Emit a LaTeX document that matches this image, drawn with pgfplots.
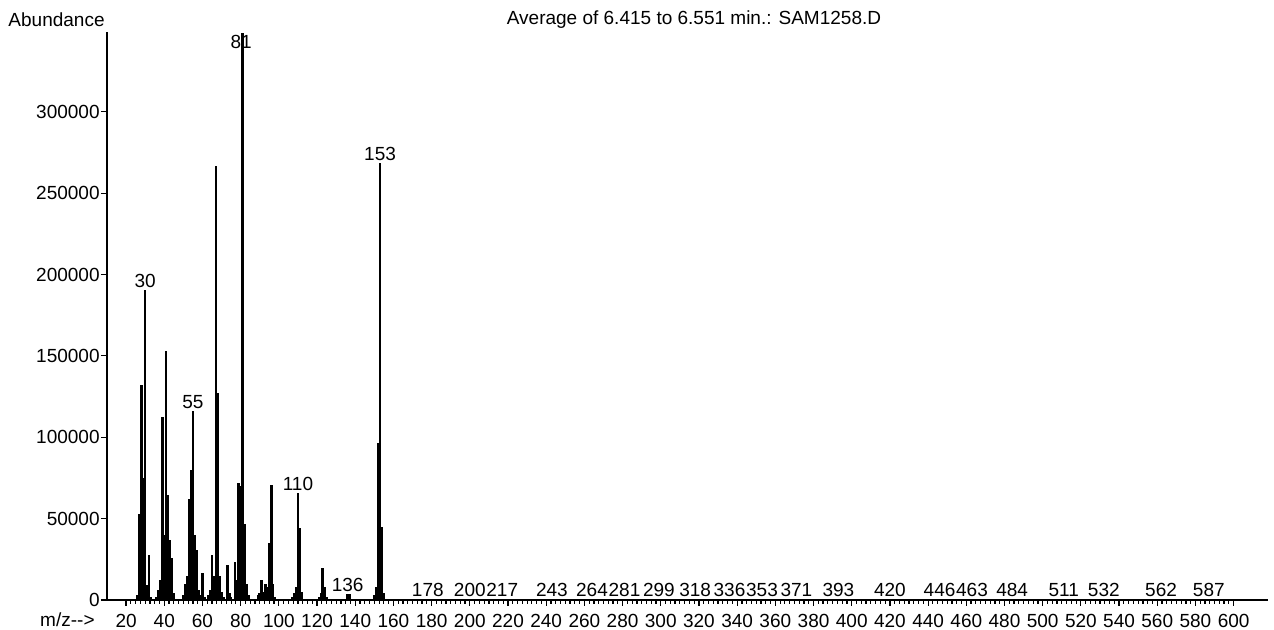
\documentclass[border=0pt]{standalone}
\usepackage{pgfplots}
\pgfplotsset{compat=1.18}
\usepackage{pgfplotstable}
\usepackage{fontspec}
\setmainfont{Liberation Sans}
\newcommand{\lf}{\fontsize{9.5pt}{11pt}\selectfont}

\pgfplotstableread{
mz abund
26 3000
27 53000
28 132000
29 75000
30 190600
31 9000
32 27700
33 2000
36 2000
37 6000
38 12000
39 112700
40 40000
41 152700
42 64600
43 37000
44 26000
45 4000
50 3000
51 10000
52 15000
53 62000
54 80000
55 116000
56 40000
57 31000
58 6000
59 3000
60 16600
61 2000
63 3000
64 6000
65 27700
66 15000
67 266500
68 127000
69 15000
70 5000
71 2000
73 21500
74 4000
75 2000
77 23600
78 12000
79 71800
80 70000
81 348500
82 47000
83 10000
84 3000
89 3000
90 4000
91 12300
92 5000
93 10000
94 8000
95 35000
96 70700
97 10000
98 2000
107 2000
108 4000
109 8000
110 65800
111 44300
112 5000
121 2000
122 4000
123 19700
124 8000
125 2000
136 3800
137 3500
150 3000
151 8000
152 96500
153 268600
154 45000
155 4000
178 800
200 600
217 600
243 500
264 500
281 500
299 500
318 500
336 500
353 500
371 500
393 500
420 400
446 400
463 400
484 400
511 400
532 400
562 400
587 400
}\spectrum

\begin{document}
\begin{tikzpicture}
\useasboundingbox (-53.5pt,-15pt) rectangle (583.5pt,300pt);
\begin{axis}[
  scale only axis,
  width=580.5pt, height=284pt,
  xmin=10, xmax=618,
  ymin=0, ymax=349000,
  axis lines=left,
  axis line style={line width=1.2pt, -},
  xtick={20,40,...,600},
  minor x tick num=7,
  ytick={0,50000,...,300000},
  scaled y ticks=false,
  tick align=outside,
  major tick length=3pt,
  minor tick length=2pt,
  tick style={line width=0.6pt, black},
  every tick label/.append style={font=\lf},
  yticklabel style={inner sep=0.5pt, /pgf/number format/.cd, fixed, 1000 sep={}, assume math mode=true},
  xticklabel style={inner sep=1pt, yshift=-3pt, /pgf/number format/assume math mode=true},
  clip=false,
]
\addplot[ycomb, black, line width=1.3pt, mark=none] table[x=mz, y=abund] {\spectrum};

\node[anchor=south, inner sep=1pt, font=\lf] at (axis cs:30,190600) {30};
\node[anchor=south, inner sep=1pt, font=\lf] at (axis cs:55,116000) {55};
\node[font=\lf, inner sep=0pt] at (axis cs:80.3,343000) {81};
\node[anchor=south, inner sep=1pt, font=\lf] at (axis cs:110,65800) {110};
\node[anchor=south, inner sep=1pt, font=\lf] at (axis cs:136,3800) {136};
\node[anchor=south, inner sep=1pt, font=\lf] at (axis cs:153,268600) {153};
\pgfplotsinvokeforeach{178,200,217,243,264,281,299,318,336,353,371,393,420,446,463,484,511,532,562,587}{
  \node[anchor=south, inner sep=1pt, font=\lf] at (axis cs:#1,800) {#1};
}
\end{axis}
\node[anchor=east, inner sep=0pt, font=\lf] at (-1pt,290pt) {Abundance};
\node[inner sep=0pt, font=\lf] at (293.5pt,290pt) {Average of 6.415 to 6.551 min.: SAM1258.D};
\node[anchor=east, inner sep=0pt, font=\lf] at (-6pt,-10pt) {m/z{-}{-}>};
\end{tikzpicture}
\end{document}
